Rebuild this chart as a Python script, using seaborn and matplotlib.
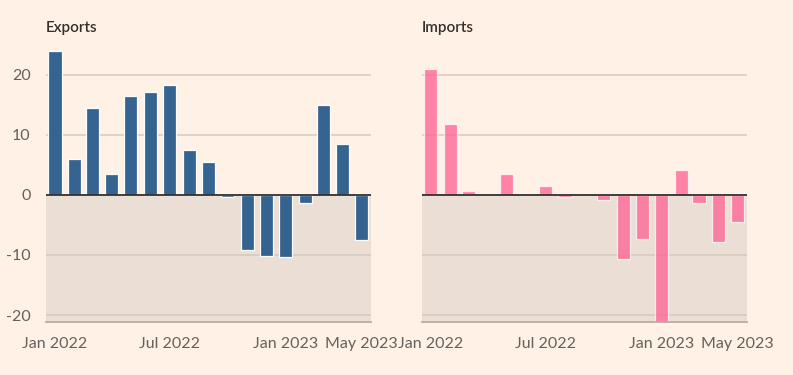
import pandas as pd
import seaborn as sns
import matplotlib.pyplot as plt
from matplotlib import rcParams

# monthly change, % year on year
months = ["2022-01", "2022-02", "2022-03", "2022-04", "2022-05", "2022-06",
          "2022-07", "2022-08", "2022-09", "2022-10", "2022-11", "2022-12",
          "2023-01", "2023-02", "2023-03", "2023-04", "2023-05"]
exports = [23.9, 6.0, 14.4, 3.5, 16.4, 17.1, 18.2, 7.4, 5.5, -0.35, -9.1,
           -10.1, -10.4, -1.3, 14.9, 8.5, -7.5]
imports = [21.0, 11.7, 0.7, 0.0, 3.4, -0.1, 1.4, -0.4, 0.0, -0.8, -10.6,
           -7.3, -22.0, 4.2, -1.4, -7.9, -4.5]
tick_months = ["2022-01", "2022-07", "2023-01", "2023-05"]
tick_labels = ["Jan 2022", "Jul 2022", "Jan 2023", "May 2023"]
y_ticks = [20, 10, 0, -10, -20]

BG = "#FFF1E5"
SHADE = "#EBDFD5"
GRID = "#D6CAC0"
TEXT = "#66605C"
Y_MIN, Y_MAX = -21.1, 25


def draw_panel(ax, values, color, alpha, title, show_y):
    start = pd.Timestamp(months[0])
    days = [(pd.Timestamp(m) - start).days for m in months]
    df = pd.DataFrame({"day": days, "value": values})

    ax.set_facecolor(BG)
    ax.axhspan(Y_MIN, 0, color=SHADE, zorder=0, lw=0)
    for y in y_ticks:
        if y != 0:
            ax.axhline(y, color=GRID, lw=1.1, zorder=1)

    sns.barplot(data=df, x="day", y="value", native_scale=True, width=0.74,
                color=color, alpha=alpha, errorbar=None, ax=ax,
                edgecolor=(1, 1, 1, 0.2), linewidth=0.9, zorder=2, saturation=1)
    ax.axhline(0, color="#33302E", lw=1.3, zorder=3)

    ax.set_xlim(-14.2, 499.2)
    ax.set_ylim(Y_MIN, Y_MAX)
    ax.set_xticks([(pd.Timestamp(m) - start).days for m in tick_months])
    ax.set_xticklabels(tick_labels)
    ax.set_yticks(y_ticks)
    if show_y:
        ax.set_yticklabels([str(y) for y in y_ticks])
    else:
        ax.set_yticklabels([])
    ax.set_xlabel("")
    ax.set_ylabel("")
    ax.tick_params(axis="x", direction="out", length=6, width=1.0,
                   color="#C2B8AF", labelsize=11.5, labelcolor=TEXT, pad=5)
    ax.tick_params(axis="y", length=0, labelsize=11.5, labelcolor=TEXT, pad=11)
    for side in ["top", "right", "left"]:
        ax.spines[side].set_visible(False)
    ax.spines["bottom"].set_color("#B8ADA4")
    ax.spines["bottom"].set_linewidth(1.3)
    ax.text(0, 1.0 + 16.5 / 277, title, transform=ax.transAxes, ha="left",
            va="center", fontsize=11, fontweight="semibold", color="#33302E")


def main():
    sns.set_theme(style="white")
    rcParams['font.family'] = ['Lato', 'DejaVu Sans']
    rcParams['axes.unicode_minus'] = False
    fig = plt.figure(figsize=(7.93, 3.75), dpi=100)
    fig.patch.set_facecolor(BG)
    ax1 = fig.add_axes([0.058, 0.1421, 0.4095, 0.7392])
    ax2 = fig.add_axes([0.532, 0.1421, 0.4095, 0.7392])
    draw_panel(ax1, exports, "#2F5F8E", 0.97, "Exports", True)
    draw_panel(ax2, imports, "#FF5F93", 0.75, "Imports", False)
    fig.savefig("out.png", dpi=100, facecolor=BG)


if __name__ == '__main__':
    main()
